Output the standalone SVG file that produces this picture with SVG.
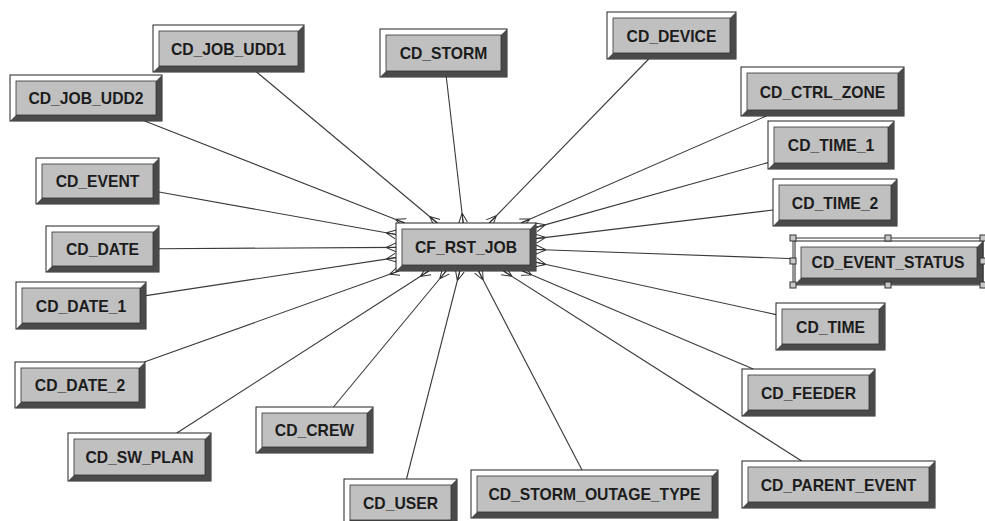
<svg xmlns="http://www.w3.org/2000/svg" width="985" height="521" viewBox="0 0 985 521">
<style>
.o{fill:#ffffff;stroke:#222;stroke-width:1}
.d{fill:#4a4a4a;stroke:none}
.f{fill:#c0c0c0;stroke:#333;stroke-width:0.8}
.t{font-family:"Liberation Sans",Arial,sans-serif;font-weight:bold;font-size:15.7px;fill:#1c1c1c;text-anchor:middle}
.e{stroke:#3a3a3a;stroke-width:1.1;fill:none;marker-end:url(#crow)}
.h{fill:#c8c8c8;stroke:#333;stroke-width:1}
.sel{fill:none;stroke:#333;stroke-width:1}
</style>
<defs>
<marker id="crow" viewBox="0 -6 10 12" refX="10" refY="0" markerWidth="10" markerHeight="12" markerUnits="userSpaceOnUse" orient="auto">
<path d="M0,0 L10,-4.5 M0,0 L10,0 M0,0 L10,4.5" fill="none" stroke="#333" stroke-width="1"/>
</marker>
</defs>
<rect x="0" y="0" width="985" height="521" fill="#ffffff"/>
<g id="connectors">
<line class="e" x1="256.6" y1="72" x2="437.3" y2="223"/>
<line class="e" x1="144.7" y1="121" x2="404.8" y2="223"/>
<line class="e" x1="446.3" y1="77" x2="463.2" y2="223"/>
<line class="e" x1="648.7" y1="59" x2="489.3" y2="223"/>
<line class="e" x1="766.3" y1="116" x2="521" y2="223"/>
<line class="e" x1="768" y1="162.6" x2="536" y2="227.4"/>
<line class="e" x1="773" y1="210" x2="536" y2="238.6"/>
<line class="e" x1="795" y1="258.7" x2="536" y2="249.5"/>
<line class="e" x1="776" y1="314.6" x2="536" y2="262.3"/>
<line class="e" x1="753.2" y1="369" x2="522.5" y2="271"/>
<line class="e" x1="801.6" y1="461" x2="503.6" y2="271"/>
<line class="e" x1="582" y1="470" x2="478.5" y2="271"/>
<line class="e" x1="406.5" y1="479" x2="459.8" y2="271"/>
<line class="e" x1="333.5" y1="407" x2="446.1" y2="271"/>
<line class="e" x1="176.8" y1="433" x2="428.7" y2="271"/>
<line class="e" x1="144.3" y1="362" x2="398.9" y2="271"/>
<line class="e" x1="146" y1="295.6" x2="396" y2="257.6"/>
<line class="e" x1="159" y1="248.7" x2="396" y2="247.4"/>
<line class="e" x1="159" y1="192" x2="396" y2="234.5"/>
</g>
<g id="cd_job_udd1"><rect class="o" x="153" y="25" width="151" height="47"/><polygon class="d" points="304,25 304,72 153,72 159,66 298,66 298,31"/><rect class="f" x="159" y="31" width="139" height="35"/><text class="t" x="228.5" y="54.5">CD_JOB_UDD1</text></g>
<g id="cd_job_udd2"><rect class="o" x="10" y="75" width="152" height="46"/><polygon class="d" points="162,75 162,121 10,121 16,115 156,115 156,81"/><rect class="f" x="16" y="81" width="140" height="34"/><text class="t" x="86" y="104">CD_JOB_UDD2</text></g>
<g id="cd_storm"><rect class="o" x="380" y="29" width="127" height="48"/><polygon class="d" points="507,29 507,77 380,77 386,71 501,71 501,35"/><rect class="f" x="386" y="35" width="115" height="36"/><text class="t" x="443.5" y="59">CD_STORM</text></g>
<g id="cd_device"><rect class="o" x="607" y="12" width="129" height="47"/><polygon class="d" points="736,12 736,59 607,59 613,53 730,53 730,18"/><rect class="f" x="613" y="18" width="117" height="35"/><text class="t" x="671.5" y="41.5">CD_DEVICE</text></g>
<g id="cd_ctrl_zone"><rect class="o" x="741" y="67" width="163" height="49"/><polygon class="d" points="904,67 904,116 741,116 747,110 898,110 898,73"/><rect class="f" x="747" y="73" width="151" height="37"/><text class="t" x="822.5" y="97.5">CD_CTRL_ZONE</text></g>
<g id="cd_time_1"><rect class="o" x="768" y="121" width="126" height="48"/><polygon class="d" points="894,121 894,169 768,169 774,163 888,163 888,127"/><rect class="f" x="774" y="127" width="114" height="36"/><text class="t" x="831" y="151">CD_TIME_1</text></g>
<g id="cd_time_2"><rect class="o" x="773" y="179" width="124" height="47"/><polygon class="d" points="897,179 897,226 773,226 779,220 891,220 891,185"/><rect class="f" x="779" y="185" width="112" height="35"/><text class="t" x="835" y="208.5">CD_TIME_2</text></g>
<g id="cd_event_status"><rect class="o" x="795" y="241" width="188" height="43"/><polygon class="d" points="983,241 983,284 795,284 801,278 977,278 977,247"/><rect class="f" x="801" y="247" width="176" height="31"/><text class="t" x="888" y="268">CD_EVENT_STATUS</text>
<rect class="sel" x="793" y="238" width="190" height="47"/>
<rect class="h" x="790" y="235" width="6" height="6"/><rect class="h" x="885" y="235" width="6" height="6"/><rect class="h" x="980" y="235" width="6" height="6"/>
<rect class="h" x="790" y="258" width="6" height="6"/><rect class="h" x="980" y="258" width="6" height="6"/>
<rect class="h" x="790" y="282" width="6" height="6"/><rect class="h" x="885" y="282" width="6" height="6"/><rect class="h" x="980" y="282" width="6" height="6"/></g>
<g id="cd_time"><rect class="o" x="776" y="303" width="109" height="47"/><polygon class="d" points="885,303 885,350 776,350 782,344 879,344 879,309"/><rect class="f" x="782" y="309" width="97" height="35"/><text class="t" x="830.5" y="332.5">CD_TIME</text></g>
<g id="cd_feeder"><rect class="o" x="742" y="369" width="133" height="47"/><polygon class="d" points="875,369 875,416 742,416 748,410 869,410 869,375"/><rect class="f" x="748" y="375" width="121" height="35"/><text class="t" x="808.5" y="398.5">CD_FEEDER</text></g>
<g id="cd_parent_event"><rect class="o" x="742" y="461" width="193" height="47"/><polygon class="d" points="935,461 935,508 742,508 748,502 929,502 929,467"/><rect class="f" x="748" y="467" width="181" height="35"/><text class="t" x="838.5" y="490.5">CD_PARENT_EVENT</text></g>
<g id="cd_storm_outage_type"><rect class="o" x="471" y="470" width="247" height="48"/><polygon class="d" points="718,470 718,518 471,518 477,512 712,512 712,476"/><rect class="f" x="477" y="476" width="235" height="36"/><text class="t" x="594.5" y="500">CD_STORM_OUTAGE_TYPE</text></g>
<g id="cd_user"><rect class="o" x="344" y="479" width="113" height="47"/><polygon class="d" points="457,479 457,526 344,526 350,520 451,520 451,485"/><rect class="f" x="350" y="485" width="101" height="35"/><text class="t" x="400.5" y="508.5">CD_USER</text></g>
<g id="cd_crew"><rect class="o" x="256" y="407" width="117" height="46"/><polygon class="d" points="373,407 373,453 256,453 262,447 367,447 367,413"/><rect class="f" x="262" y="413" width="105" height="34"/><text class="t" x="314.5" y="436">CD_CREW</text></g>
<g id="cd_sw_plan"><rect class="o" x="68" y="433" width="143" height="48"/><polygon class="d" points="211,433 211,481 68,481 74,475 205,475 205,439"/><rect class="f" x="74" y="439" width="131" height="36"/><text class="t" x="139.5" y="463">CD_SW_PLAN</text></g>
<g id="cd_date_2"><rect class="o" x="15" y="362" width="130" height="46"/><polygon class="d" points="145,362 145,408 15,408 21,402 139,402 139,368"/><rect class="f" x="21" y="368" width="118" height="34"/><text class="t" x="80" y="391">CD_DATE_2</text></g>
<g id="cd_date_1"><rect class="o" x="16" y="282" width="130" height="47"/><polygon class="d" points="146,282 146,329 16,329 22,323 140,323 140,288"/><rect class="f" x="22" y="288" width="118" height="35"/><text class="t" x="81" y="311.5">CD_DATE_1</text></g>
<g id="cd_date"><rect class="o" x="46" y="226" width="113" height="46"/><polygon class="d" points="159,226 159,272 46,272 52,266 153,266 153,232"/><rect class="f" x="52" y="232" width="101" height="34"/><text class="t" x="102.5" y="255">CD_DATE</text></g>
<g id="cd_event"><rect class="o" x="36" y="158" width="123" height="46"/><polygon class="d" points="159,158 159,204 36,204 42,198 153,198 153,164"/><rect class="f" x="42" y="164" width="111" height="34"/><text class="t" x="97.5" y="187">CD_EVENT</text></g>
<g id="cf_rst_job"><rect class="o" x="396" y="223" width="140" height="48"/><polygon class="d" points="536,223 536,271 396,271 402,265 530,265 530,229"/><rect class="f" x="402" y="229" width="128" height="36"/><text class="t" x="466" y="253">CF_RST_JOB</text></g>
</svg>
